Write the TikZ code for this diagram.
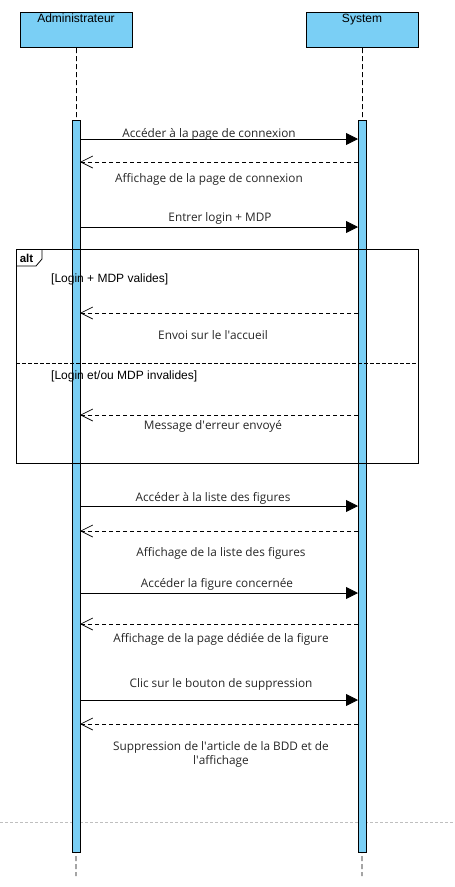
\documentclass[tikz,border=0pt]{standalone}
\usepackage{fontspec}
\setmainfont{Open Sans}
\newfontfamily\arialf{Liberation Sans}
\usetikzlibrary{arrows.meta}
\definecolor{actblue}{HTML}{7ACFF5}
\tikzset{
  x=1pt,y=-1pt,
  actor/.style={draw,line width=1pt,fill=actblue,minimum width=112pt,minimum height=35pt,anchor=north west,inner sep=0pt},
  actbar/.style={draw,line width=0.8pt,fill=actblue},
  lifeln/.style={line width=0.8pt,dash pattern=on 5pt off 3pt},
  callmsg/.style={line width=0.8pt,-{Triangle[length=12pt,width=12pt]}},
  retmsg/.style={line width=0.8pt,dash pattern=on 4pt off 3pt,-{Straight Barb[length=12pt,width=12pt,line width=0.7pt]}},
  lbl/.style={font=\fontsize{11.8}{14}\selectfont,inner sep=0pt,text=black!85},
  guard/.style={font=\arialf\fontsize{12}{14}\selectfont,inner sep=0pt,anchor=west},
}
\begin{document}
\begin{tikzpicture}
\useasboundingbox (0,0) rectangle (455,887);
% actors
\node[actor] (adm) at (20,12) {};
\node[actor] (sys) at (306,12) {};
\node[font=\arialf\fontsize{12}{14}\selectfont,anchor=north,inner sep=0pt] (admt) at (76,13.5) {Administrateur};
\node[font=\arialf\fontsize{12}{14}\selectfont,anchor=north,inner sep=0pt] (syst) at (362,13.5) {System};
% lifelines
\coordinate (admend) at (76,876);
\coordinate (sysend) at (362,876);
\draw[lifeln] (adm.south) -- (admend);
\draw[lifeln] (sys.south) -- (sysend);
% gray dashed line
\coordinate (gl) at (0,822);
\coordinate (gr) at (455,822);
\draw[black!25,line width=0.6pt,dash pattern=on 3pt off 2pt] (gl) -- (gr);
% activation bars
\node[actbar,minimum width=8pt,minimum height=732pt,inner sep=0pt,anchor=north] (admbar) at (76,120) {};
\node[actbar,minimum width=8pt,minimum height=732pt,inner sep=0pt,anchor=north] (sysbar) at (362,120) {};
% alt frame
\node[draw,line width=0.8pt,minimum width=402pt,minimum height=214pt,anchor=north west,inner sep=0pt] (altf) at (16,249) {};
\coordinate (tag1) at (42,249);
\coordinate (tag2) at (42,259);
\coordinate (tag3) at (36,266);
\coordinate (tag4) at (16,266);
\draw[line width=0.8pt] (tag1) -- (tag2) -- (tag3) -- (tag4);
\node[font=\arialf\bfseries\fontsize{11.5}{13}\selectfont,inner sep=0pt] (altl) at (26.5,258) {alt};
\coordinate (divl) at (16,363);
\coordinate (divr) at (418,363);
\draw[line width=0.8pt,dash pattern=on 4pt off 2pt] (divl) -- (divr);
\node[guard] (g1) at (51,279) {[Login + MDP valides]};
\node[guard] (g2) at (51,376) {[Login et/ou MDP invalides]};
% message coordinates
\foreach \n/\y in {m1/139,m2/162,m3/227,m4/313,m5/415,m6/506,m7/531,m8/593,m9/624,m10/700,m11/724}{
  \coordinate (a\n) at (80,\y);
  \coordinate (s\n) at (358,\y);
}
\draw[callmsg] (am1) -- (sm1);
\node[lbl] (l1) at (209,134) {Accéder à la page de connexion};
\draw[retmsg] (sm2) -- (am2);
\node[lbl] (l2) at (209,179) {Affichage de la page de connexion};
\draw[callmsg] (am3) -- (sm3);
\node[lbl] (l3) at (220,218) {Entrer login + MDP};
\draw[retmsg] (sm4) -- (am4);
\node[lbl] (l4) at (213,335) {Envoi sur le l\textquotesingle accueil};
\draw[retmsg] (sm5) -- (am5);
\node[lbl] (l5) at (213,426) {Message d\textquotesingle erreur envoyé};
\draw[callmsg] (am6) -- (sm6);
\node[lbl] (l6) at (213,498) {Accéder à la liste des figures};
\draw[retmsg] (sm7) -- (am7);
\node[lbl] (l7) at (221,553) {Affichage de la liste des figures};
\draw[callmsg] (am8) -- (sm8);
\node[lbl] (l8) at (217,584) {Accéder la figure concernée};
\draw[retmsg] (sm9) -- (am9);
\node[lbl] (l9) at (221,639) {Affichage de la page dédiée de la figure};
\draw[callmsg] (am10) -- (sm10);
\node[lbl] (l10) at (221,684) {Clic sur le bouton de suppression};
\draw[retmsg] (sm11) -- (am11);
\node[lbl,align=center] (l11) at (221,754) {Suppression de l\textquotesingle article de la BDD et de\\ l\textquotesingle affichage};
\end{tikzpicture}
\end{document}
